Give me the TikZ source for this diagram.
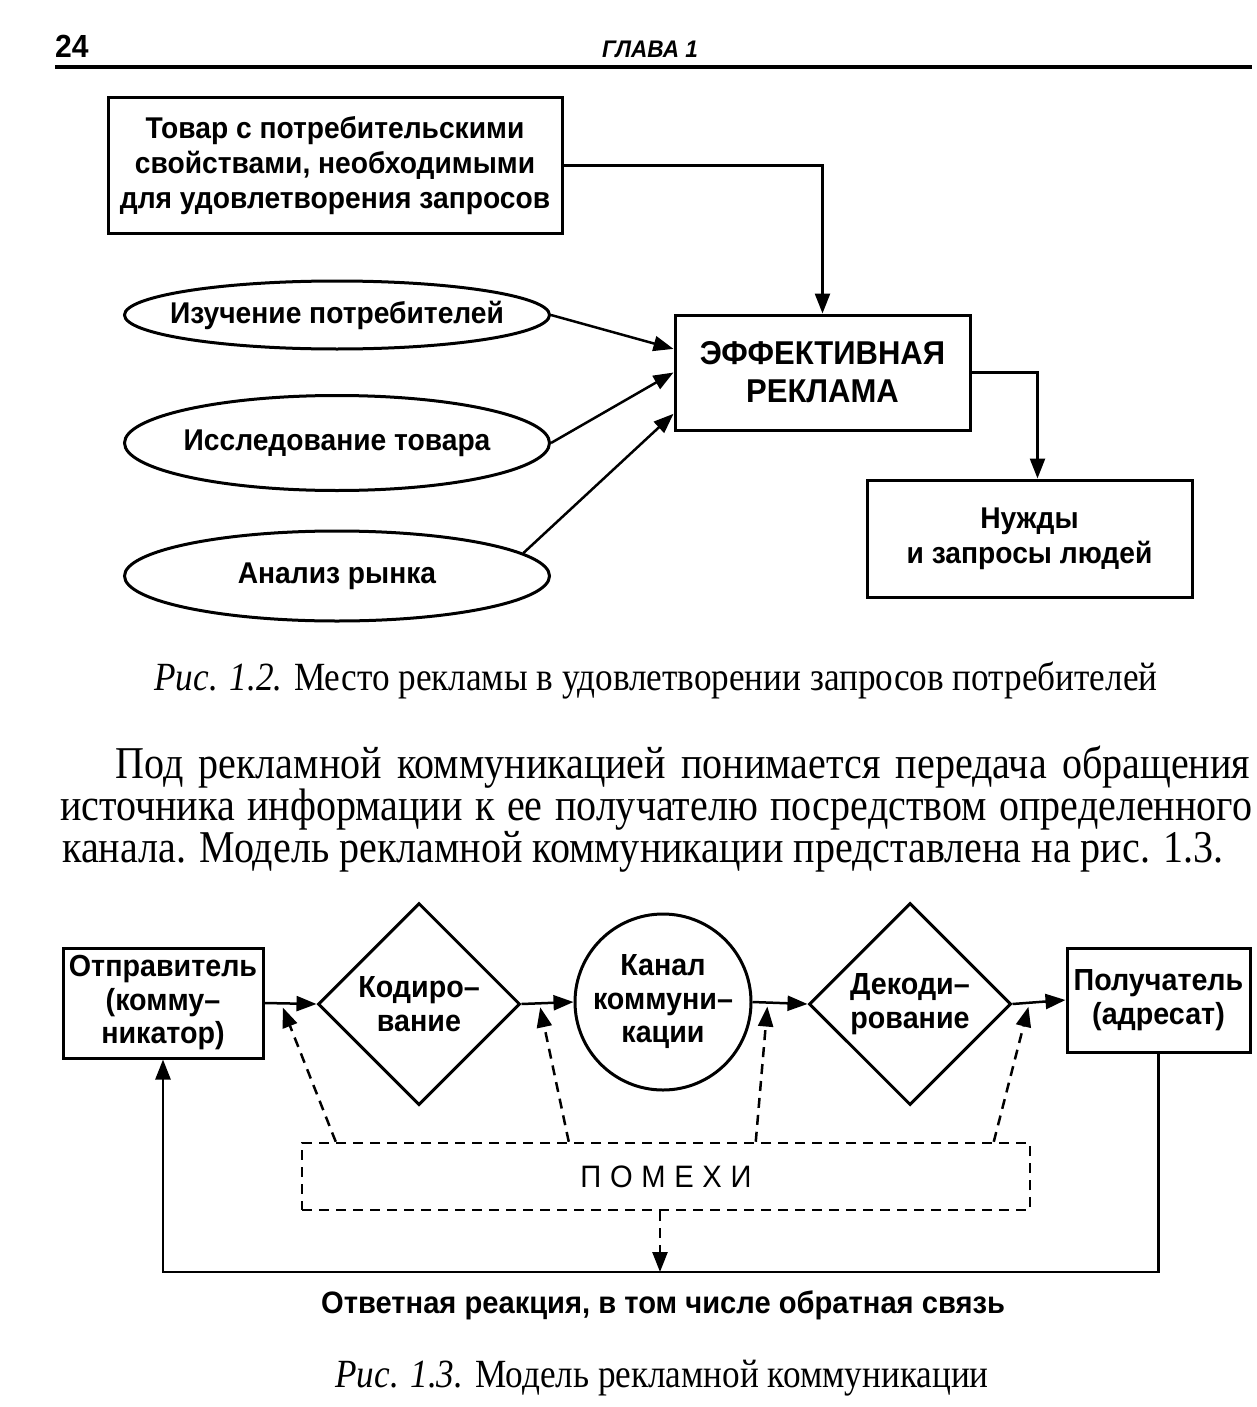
\documentclass[tikz,border=0pt]{standalone}
\usepackage{fontspec}
\setmainfont{Liberation Serif}
\newfontfamily\dsans[FakeStretch=0.94]{Liberation Sans}
\newfontfamily\dserif[FakeStretch=0.88]{Liberation Serif}
\usetikzlibrary{arrows.meta,shapes.geometric,calc}
\begin{document}
\begin{tikzpicture}[x=1pt,y=-1pt,
  every node/.style={inner sep=0pt},
  dfont/.style={font=\dsans\bfseries\fontsize{30}{35}\selectfont},
  dfontb/.style={font=\dsans\bfseries\fontsize{30.5}{33.5}\selectfont},
  boxnode/.style={draw, line width=3pt, align=center, dfont},
  ellnode/.style={draw, ellipse, line width=3pt, minimum width=425pt, align=center, dfont},
  dianode/.style={draw, diamond, aspect=1, line width=3pt, minimum width=202pt, minimum height=202pt, align=center, dfontb},
  arr/.style={line width=2.5pt, -{Triangle[length=20pt,width=15pt]}},
  darr/.style={line width=2.5pt, dash pattern=on 10pt off 7pt, -{Triangle[length=20pt,width=15pt]}},
  paratext/.style={anchor=base west, font=\dserif\fontsize{45.5}{42}\selectfont},
  captext/.style={font=\dserif\fontsize{40}{44}\selectfont}
]
\useasboundingbox (0,0) rectangle (1257,1407);
\fill[white] (0,0) rectangle (1257,1407);

% header
\node[anchor=base west, font=\dsans\bfseries\fontsize{32}{34}\selectfont] (pnum) at (55,58) {24};
\node[anchor=base, font=\dsans\bfseries\itshape\fontsize{24}{26}\selectfont] (chap) at (650,58) {ГЛАВА 1};
\coordinate (rl) at (55,67);
\coordinate (rr) at (1252,67);
\draw[line width=4pt] (rl) -- (rr);

% diagram 1
\node[boxnode, minimum width=454pt, minimum height=135pt] (tovar) at (335,165.5)
  {Товар с потребительскими\\свойствами, необходимыми\\для удовлетворения запросов};
\node[ellnode, minimum height=68pt] (e1) at (337,315) {\makebox[0pt]{Изучение потребителей}};
\node[ellnode, minimum height=95pt] (e2) at (337,443) {\makebox[0pt]{Исследование товара}};
\node[ellnode, minimum height=90pt] (e3) at (337,576) {\makebox[0pt]{Анализ рынка}};
\node[boxnode, minimum width=295pt, minimum height=115pt, font=\dsans\bfseries\fontsize{33}{38}\selectfont] (ef) at (822.5,372.5) {ЭФФЕКТИВНАЯ\\РЕКЛАМА};
\node[boxnode, minimum width=325pt, minimum height=117pt] (nuzh) at (1029.5,538.5) {Нужды\\и запросы людей};

\draw[arr] (tovar.east) -| (ef.north);
\draw[arr] (e1.east) -- ($(ef.north west)!0.3!(ef.south west)$);
\draw[arr] (e2.east) -- ($(ef.north west)!0.5!(ef.south west)$);
\draw[arr] (e3.7) -- ($(ef.north west)!0.85!(ef.south west)$);
\draw[arr] (ef.east) -| ($(nuzh.north)+(8,0)$);

\node[captext] (cap1) at (656,680) {\textit{Рис. 1.2.} Место рекламы в удовлетворении запросов потребителей};

% paragraph
\node[paratext] (p1) at (115,778) {\makebox[1135pt][s]{Под рекламной коммуникацией понимается передача обращения}};
\node[paratext] (p2) at (60,820) {\makebox[1192pt][s]{источника информации к ее получателю посредством определенного}};
\node[paratext] (p3) at (62,862) {канала. Модель рекламной коммуникации представлена на рис. 1.3.};

% diagram 2
\node[boxnode, dfontb, minimum width=200pt, minimum height=110pt] (otp) at (163,1003) {Отправитель\\(комму–\\никатор)};
\node[dianode] (kod) at (419,1004) {Кодиро–\\вание};
\node[draw, circle, line width=3pt, minimum size=176pt, align=center, dfontb] (kan) at (663,1002) {Канал\\коммуни–\\кации};
\node[dianode] (dek) at (910,1004) {Декоди–\\рование};
\node[boxnode, dfontb, minimum width=183pt, minimum height=104pt] (pol) at (1158.5,1000) {Получатель\\(адресат)};

\draw[arr] (otp.east) -- (kod.west);
\draw[arr] (kod.east) -- (kan.west);
\draw[arr] (kan.east) -- (dek.west);
\draw[arr] (dek.east) -- (pol.west);

\node[draw, line width=2.5pt, dash pattern=on 10pt off 7pt, minimum width=728pt, minimum height=67pt,
  font=\dsans\fontsize{31}{34}\selectfont] (pom) at (666,1176.5) {\addfontfeature{LetterSpace=28}ПОМЕХИ};

\coordinate (a1) at ($(otp.east)!0.35!(kod.west)+(0,4)$);
\coordinate (a2) at ($(kod.east)!0.36!(kan.west)+(0,4)$);
\coordinate (a3) at ($(kan.east)!0.27!(dek.west)+(0,4)$);
\coordinate (a4) at ($(dek.east)!0.3!(pol.west)+(0,4)$);
\draw[darr] ($(pom.north west)+(35,0)$) -- (a1);
\draw[darr] ($(pom.north west)+(268,0)$) -- (a2);
\draw[darr] ($(pom.north west)+(455,0)$) -- (a3);
\draw[darr] ($(pom.north west)+(693,0)$) -- (a4);

\coordinate (fbm) at (660,1272);
\draw[arr] (pol.south) |- (fbm) -| (otp.south);
\draw[darr] (pom.south -| fbm) -- (fbm);

\node[font=\dsans\bfseries\fontsize{31}{34}\selectfont] (lbl) at (663,1305) {Ответная реакция, в том числе обратная связь};
\node[captext] (cap2) at (662,1378) {\textit{Рис. 1.3.} Модель рекламной коммуникации};
\end{tikzpicture}
\end{document}
